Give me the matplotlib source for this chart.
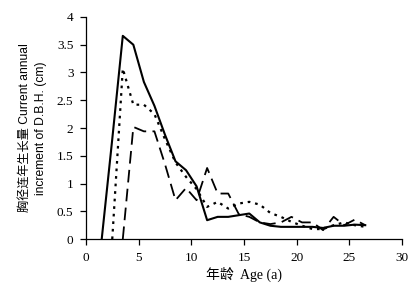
import matplotlib
matplotlib.use("Agg")
import matplotlib.pyplot as plt

# ages (a) and annual D.B.H. increment (cm) for three series
age_solid = [1.5, 2.5, 3.5, 4.5, 5.5, 6.5, 7.5, 8.5, 9.5, 10.5, 11.5, 12.5, 13.5, 14.5,
             15.5, 16.5, 17.5, 18.5, 19.5, 20.5, 21.5, 22.5, 23.5, 24.5, 25.5, 26.5]
inc_solid = [0, 1.8, 3.66, 3.5, 2.83, 2.4, 1.88, 1.4, 1.24, 0.95, 0.34, 0.40, 0.40, 0.43,
             0.46, 0.30, 0.24, 0.22, 0.22, 0.22, 0.22, 0.20, 0.24, 0.24, 0.26, 0.25]

age_dot = [2.5, 3.5, 4.5, 5.5, 6.5, 7.5, 8.5, 9.5, 10.5, 11.5, 12.5, 13.5, 14.5,
           15.5, 16.5, 17.5, 18.5, 19.5, 20.5, 21.5, 22.5, 23.5, 24.5, 25.5, 26.5]
inc_dot = [0, 3.07, 2.42, 2.42, 2.25, 1.8, 1.38, 1.12, 0.9, 0.58, 0.67, 0.55, 0.64,
           0.67, 0.62, 0.47, 0.40, 0.31, 0.24, 0.18, 0.18, 0.25, 0.30, 0.25, 0.22]

age_dash = [3.5, 4.5, 5.5, 6.5, 7.5, 8.5, 9.5, 10.5, 11.5, 12.5, 13.5, 14.5,
            15.5, 16.5, 17.5, 18.5, 19.5, 20.5, 21.5, 22.5, 23.5, 24.5, 25.5, 26.5]
inc_dash = [0, 2.02, 1.94, 1.94, 1.35, 0.70, 0.92, 0.70, 1.28, 0.82, 0.82, 0.45,
            0.40, 0.30, 0.27, 0.30, 0.40, 0.30, 0.30, 0.16, 0.40, 0.25, 0.35, 0.25]

xticks = [0, 5, 10, 15, 20, 25, 30]
yticks = [0, 0.5, 1, 1.5, 2, 2.5, 3, 3.5, 4]
ytick_labels = ["0", "0.5", "1", "1.5", "2", "2.5", "3", "3.5", "4"]

serif = ["Liberation Serif", "Noto Sans CJK SC"]
narrow = ["Liberation Sans Narrow", "Liberation Sans", "Noto Sans CJK SC"]

fig = plt.figure(figsize=(4.15, 3.03), dpi=100)
ax = fig.add_axes([0.207, 0.211, 0.762, 0.733])

ax.plot(age_solid, inc_solid, color="black", lw=1.5, ls="-")
ax.plot(age_dot, inc_dot, color="black", lw=1.6, ls=(0, (1.2, 2.2)))
ax.plot(age_dash, inc_dash, color="black", lw=1.3, ls=(0, (7, 3.5)))

ax.set_xlim(0, 30)
ax.set_ylim(0, 4)
ax.set_xticks(xticks)
ax.set_yticks(yticks)
ax.set_xticklabels([str(t) for t in xticks], family=serif, fontsize=9.5)
ax.set_yticklabels(ytick_labels, family=serif, fontsize=9.5)
ax.tick_params(direction="out", length=4, width=0.9, pad=5)

for s in ["top", "right"]:
    ax.spines[s].set_visible(False)
for s in ["left", "bottom"]:
    ax.spines[s].set_linewidth(0.9)

ax.set_xlabel("年龄  Age (a)", family=serif, fontsize=10, labelpad=2)
ax.set_ylabel("胸径连年生长量 Current annual\nincrement of D.B.H. (cm)",
              family=narrow, fontsize=8.7, labelpad=7, linespacing=1.5)

fig.savefig("out.png", dpi=100)
